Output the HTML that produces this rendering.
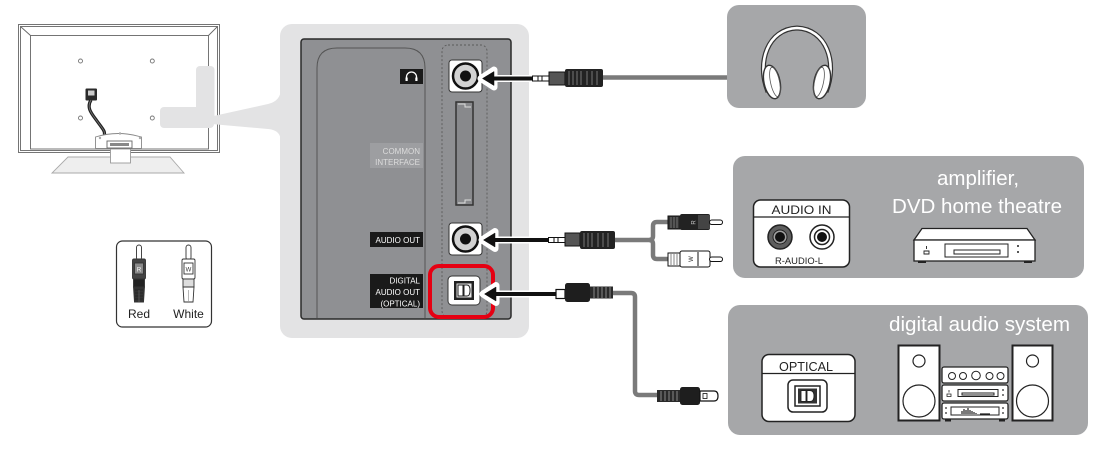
<!DOCTYPE html>
<html>
<head>
<meta charset="utf-8">
<style>
html,body{margin:0;padding:0;background:#fff;}
svg{display:block;}
text{font-family:"Liberation Sans",sans-serif;}
</style>
</head>
<body>
<svg width="1106" height="454" viewBox="0 0 1106 454" xmlns="http://www.w3.org/2000/svg">
<rect width="1106" height="454" fill="#fff"/>

<!-- TV -->
<g fill="none" stroke="#666" stroke-width="0.9">
  <rect x="18.5" y="24.5" width="201" height="128"/>
  <rect x="20.5" y="26.5" width="197" height="124"/>
  <rect x="30.5" y="35.5" width="178" height="113.5"/>
  <line x1="20.5" y1="26.5" x2="30.5" y2="35.5"/>
  <line x1="217.5" y1="26.5" x2="208.5" y2="35.5"/>
</g>
<g fill="#fff" stroke="#777" stroke-width="0.9">
  <circle cx="80.5" cy="61" r="2"/>
  <circle cx="152.3" cy="61" r="2"/>
  <circle cx="80.5" cy="118" r="2"/>
  <circle cx="152.3" cy="118" r="2"/>
</g>
<!-- power cord -->
<rect x="85.5" y="88.5" width="11.5" height="12" fill="#2a2a2a" rx="1"/>
<rect x="88" y="90.5" width="6.5" height="5" fill="#ccc"/>
<path d="M91,100 C86,108 92,114 97,121 C102,128 106,132 104,135" stroke="#222" stroke-width="3.2" fill="none"/>
<path d="M91,100 C86,108 92,114 97,121 C102,128 106,132 104,135" stroke="#777" stroke-width="0.8" fill="none"/>
<!-- stand -->
<polygon points="68,157 170,157 184,173 52,173" fill="#eee" stroke="#aaa" stroke-width="0.9"/>
<rect x="110.5" y="149" width="20" height="14" fill="#fff" stroke="#999" stroke-width="0.9"/>
<path d="M95.5,148.5 V137 Q118,130 141.5,137 V148.5 Z" fill="#fff" stroke="#888" stroke-width="0.9"/>
<rect x="107" y="141" width="25" height="7" fill="#fff" stroke="#666" stroke-width="0.9"/>
<rect x="110" y="143" width="19" height="3" fill="#888"/>
<circle cx="100" cy="138" r="1.2" fill="#aaa"/><circle cx="120" cy="133.5" r="1.2" fill="#aaa"/><circle cx="140" cy="138" r="1.2" fill="#aaa"/>

<!-- light callout shapes -->
<g fill="#e3e3e4">
  <rect x="196" y="66" width="18.5" height="60" rx="4"/>
  <rect x="160" y="107" width="54" height="21" rx="4"/>
  <path d="M200,119 L268,104 Q281,101 281,88 L281,142 Q281,130 268,129 L200,123 Z"/>
  <rect x="280" y="24" width="249" height="314" rx="12"/>
</g>

<!-- RCA legend -->
<rect x="116.5" y="241" width="95" height="86" rx="6" fill="#fff" stroke="#333" stroke-width="1.2"/>
<g stroke="#333" stroke-width="0.9">
  <rect x="136.5" y="245" width="5" height="15" rx="2.5" fill="#fff"/>
  <rect x="132.5" y="259" width="13" height="20" rx="1.5" fill="#444"/>
  <rect x="134.5" y="263" width="9" height="11" fill="#8a8a8a"/>
  <rect x="133.5" y="279" width="11" height="8" fill="#222"/>
  <path d="M133.5,287 H144.5 L143.5,302 H134.5 Z" fill="#333"/>
  <rect x="186" y="245" width="5" height="15" rx="2.5" fill="#fff"/>
  <rect x="182" y="259" width="13" height="20" rx="1.5" fill="#fff"/>
  <rect x="184" y="263" width="9" height="11" fill="#fff"/>
  <rect x="183" y="279" width="11" height="8" fill="#ddd"/>
  <path d="M183,287 H194 L193,302 H184 Z" fill="#fff"/>
</g>
<g stroke="#222" stroke-width="0.7">
  <line x1="135" y1="290" x2="143" y2="290"/><line x1="135" y1="293" x2="143" y2="293"/><line x1="135" y1="296" x2="143" y2="296"/><line x1="135" y1="299" x2="143" y2="299"/>
  <line x1="139" y1="290" x2="139" y2="302" stroke="#666"/>
  <line x1="188.5" y1="290" x2="188.5" y2="302" stroke="#999"/>
</g>
<text x="139" y="271.5" font-size="6" fill="#fff" text-anchor="middle">R</text>
<text x="188.5" y="271.5" font-size="6" fill="#333" text-anchor="middle">W</text>
<text x="139" y="318" font-size="12" fill="#222" text-anchor="middle">Red</text>
<text x="188.5" y="318" font-size="12" fill="#222" text-anchor="middle">White</text>

<!-- Dark panel -->
<rect x="301" y="39" width="210" height="280" rx="3" fill="#8f9093" stroke="#2a2a2a" stroke-width="1.5"/>
<path d="M317,318 V68 Q317,48 337,48 H405 Q425,48 425,68 V318" fill="none" stroke="#555" stroke-width="1"/>
<rect x="442" y="45" width="45" height="272" rx="6" fill="none" stroke="#5a5a5a" stroke-width="0.9" stroke-dasharray="2,2"/>

<!-- headphone jack -->
<rect x="449" y="60" width="33" height="32" rx="3" fill="#fff" stroke="#333" stroke-width="1"/>
<circle cx="465.5" cy="76" r="12.5" fill="#d2d2d2" stroke="#111" stroke-width="2.5"/>
<circle cx="465.5" cy="76" r="5.5" fill="#111"/>
<!-- headphone label -->
<rect x="400" y="69" width="23" height="15" fill="#1a1a1a"/>
<path d="M406.5,80 V77 A5,5 0 0 1 416.5,77 V80" fill="none" stroke="#fff" stroke-width="1.3"/>
<rect x="405.5" y="77.5" width="2.2" height="3.5" fill="#fff"/>
<rect x="415.3" y="77.5" width="2.2" height="3.5" fill="#fff"/>

<!-- CI slot -->
<rect x="456" y="102" width="17" height="103" fill="#88898c" stroke="#333" stroke-width="1.5"/>
<path d="M458,104 H465 V107 H471" fill="none" stroke="#ddd" stroke-width="1"/>
<path d="M458,203 H465 V200 H471" fill="none" stroke="#ddd" stroke-width="1"/>
<rect x="370" y="143" width="53" height="25" fill="#9d9ea1"/>
<text x="420" y="154" font-size="8" fill="#dcdcdc" text-anchor="end">COMMON</text>
<text x="420" y="165" font-size="8" fill="#dcdcdc" text-anchor="end">INTERFACE</text>

<!-- audio out -->
<rect x="449" y="223" width="33" height="32" rx="3" fill="#fff" stroke="#333" stroke-width="1"/>
<circle cx="465.5" cy="239" r="12.5" fill="#d2d2d2" stroke="#111" stroke-width="2.5"/>
<circle cx="465.5" cy="239" r="5.5" fill="#111"/>
<rect x="370" y="232" width="53" height="15" fill="#1a1a1a"/>
<text x="420" y="243" font-size="8" fill="#fff" text-anchor="end">AUDIO OUT</text>

<!-- digital -->
<rect x="370" y="274" width="53" height="34" fill="#1a1a1a"/>
<text x="420" y="283.5" font-size="8" fill="#fff" text-anchor="end">DIGITAL</text>
<text x="420" y="295" font-size="8" fill="#fff" text-anchor="end">AUDIO OUT</text>
<text x="420" y="306.5" font-size="8" fill="#fff" text-anchor="end">(OPTICAL)</text>

<rect x="448" y="276" width="32" height="29" rx="4" fill="#fff" stroke="#333" stroke-width="1"/>
<rect x="454" y="281" width="20" height="19" fill="#222"/>
<rect x="456" y="283" width="16" height="15" fill="#e6e6e6" stroke="#222" stroke-width="1"/>
<path d="M458,285 H463 V296 H458 Z M464,285 H467 Q470,285 470,290.5 Q470,296 467,296 H464 Z" fill="#fff" stroke="#222" stroke-width="1"/>
<rect x="430" y="266" width="63" height="51" rx="9" fill="none" stroke="#e60012" stroke-width="4"/>

<!-- arrows -->
<g stroke="#fff" stroke-width="7" fill="#fff" stroke-linejoin="round">
  <line x1="490" y1="78.5" x2="534" y2="78.5"/>
  <polygon points="481,78.5 494,70 494,87"/>
  <line x1="490" y1="240" x2="550" y2="240"/>
  <polygon points="482,240 495,231.5 495,248.5"/>
  <line x1="490" y1="294" x2="558" y2="294"/>
  <polygon points="483,294 496,285.5 496,302.5"/>
</g>
<g stroke="#111" stroke-width="4" fill="#111">
  <line x1="490" y1="78.5" x2="534" y2="78.5"/>
  <polygon points="482.5,78.5 494,71.5 494,85.5" stroke-width="0.5"/>
  <line x1="490" y1="240" x2="550" y2="240"/>
  <polygon points="483.5,240 495,233 495,247" stroke-width="0.5"/>
  <line x1="490" y1="294" x2="558" y2="294"/>
  <polygon points="484.5,294 496,287 496,301" stroke-width="0.5"/>
</g>

<!-- cables -->
<g fill="none" stroke="#7a7a7a" stroke-width="4.5">
  <line x1="603" y1="77.5" x2="728" y2="77.5"/>
  <path d="M615,240 H649 Q653,240 653,236 V226 Q653,222 657,222 H669"/>
  <path d="M649,240 Q653,240 653,244 V255 Q653,259 657,259 H669"/>
  <path d="M612,293 H631 Q635,293 635,297 V391 Q635,395 639,395 H658"/>
</g>

<!-- headphone plug -->
<rect x="532.5" y="76" width="17" height="5" fill="#fff" stroke="#111" stroke-width="1"/>
<line x1="538" y1="76" x2="538" y2="81" stroke="#111"/><line x1="542" y1="76" x2="542" y2="81" stroke="#111"/>
<rect x="549" y="72" width="16" height="13" fill="#555" stroke="#111" stroke-width="1"/>
<rect x="565" y="69" width="38" height="18" rx="2" fill="#222"/>
<g stroke="#777" stroke-width="1">
  <line x1="569" y1="71" x2="569" y2="85"/><line x1="573" y1="71" x2="573" y2="85"/><line x1="577" y1="71" x2="577" y2="85"/><line x1="581" y1="71" x2="581" y2="85"/><line x1="587" y1="71" x2="587" y2="85"/><line x1="592" y1="71" x2="592" y2="85"/><line x1="597" y1="71" x2="597" y2="85"/>
</g>

<!-- audio out plug -->
<rect x="548.5" y="237.5" width="17" height="5" fill="#fff" stroke="#111" stroke-width="1"/>
<line x1="554" y1="237.5" x2="554" y2="242.5" stroke="#111"/><line x1="558" y1="237.5" x2="558" y2="242.5" stroke="#111"/>
<rect x="565" y="233" width="15" height="13" fill="#555" stroke="#111" stroke-width="1"/>
<rect x="580" y="231" width="35" height="18" rx="2" fill="#222"/>
<g stroke="#777" stroke-width="1">
  <line x1="584" y1="233" x2="584" y2="247"/><line x1="588" y1="233" x2="588" y2="247"/><line x1="592" y1="233" x2="592" y2="247"/><line x1="598" y1="233" x2="598" y2="247"/><line x1="603" y1="233" x2="603" y2="247"/><line x1="608" y1="233" x2="608" y2="247"/>
</g>

<!-- RCA plugs right -->
<rect x="668" y="216" width="12" height="13" fill="#333" stroke="#111" stroke-width="1"/>
<g stroke="#888" stroke-width="0.8"><line x1="671" y1="217" x2="671" y2="228"/><line x1="674" y1="217" x2="674" y2="228"/><line x1="677" y1="217" x2="677" y2="228"/></g>
<rect x="680" y="214" width="30" height="16" rx="2" fill="#222"/>
<rect x="698" y="215" width="12" height="14" fill="#444"/>
<text x="693" y="225" font-size="6" fill="#ccc" text-anchor="middle" transform="rotate(-90 693 222.5)">R</text>
<rect x="709.5" y="220" width="13" height="4.5" rx="2.2" fill="#fff" stroke="#111" stroke-width="1"/>

<rect x="668" y="253" width="12" height="13" fill="#fff" stroke="#111" stroke-width="1"/>
<g stroke="#666" stroke-width="0.8"><line x1="671" y1="254" x2="671" y2="265"/><line x1="674" y1="254" x2="674" y2="265"/><line x1="677" y1="254" x2="677" y2="265"/></g>
<rect x="680" y="251" width="30" height="16" rx="2" fill="#fff" stroke="#111" stroke-width="1"/>
<line x1="698" y1="252" x2="698" y2="266" stroke="#111" stroke-width="1"/>
<text x="690" y="262" font-size="6" fill="#333" text-anchor="middle" transform="rotate(-90 690 259)">W</text>
<rect x="709.5" y="257" width="13" height="4.5" rx="2.2" fill="#fff" stroke="#111" stroke-width="1"/>

<!-- optical plug near TV -->
<rect x="556" y="289.5" width="9" height="9" fill="#fff" stroke="#111" stroke-width="1.2"/>
<rect x="565" y="283" width="25" height="19" rx="2.5" fill="#1e1e1e"/>
<rect x="590" y="286.5" width="23" height="12" fill="#2a2a2a"/>
<g stroke="#888" stroke-width="1"><line x1="594" y1="287" x2="594" y2="298"/><line x1="598" y1="287" x2="598" y2="298"/><line x1="602" y1="287" x2="602" y2="298"/><line x1="606" y1="287" x2="606" y2="298"/><line x1="610" y1="287" x2="610" y2="298"/></g>
<!-- optical plug far end -->
<rect x="657" y="390" width="23" height="12" fill="#2a2a2a"/>
<g stroke="#888" stroke-width="1"><line x1="661" y1="391" x2="661" y2="401"/><line x1="665" y1="391" x2="665" y2="401"/><line x1="669" y1="391" x2="669" y2="401"/><line x1="673" y1="391" x2="673" y2="401"/><line x1="677" y1="391" x2="677" y2="401"/></g>
<rect x="680" y="387" width="20" height="18" rx="2.5" fill="#1e1e1e"/>
<path d="M700,391 H714 Q718,391 718,396 Q718,401 714,401 H700 Z" fill="#fff" stroke="#111" stroke-width="1.2"/>
<rect x="703" y="393.5" width="4" height="5" fill="#fff" stroke="#111" stroke-width="0.8"/>

<!-- Headphone box -->
<rect x="727" y="5" width="139" height="103" rx="12" fill="#a6a7a9"/>
<path d="M768,92 C756,62 768,29 797,28 C826,29 838,62 826,92" fill="none" stroke="#333" stroke-width="5"/>
<path d="M768,92 C756,62 768,29 797,28 C826,29 838,62 826,92" fill="none" stroke="#fff" stroke-width="2.6"/>
<ellipse cx="772" cy="82" rx="8" ry="17" transform="rotate(-12 772 82)" fill="#fff" stroke="#333" stroke-width="1.4"/>
<ellipse cx="775" cy="82" rx="4.5" ry="15" transform="rotate(-12 775 82)" fill="none" stroke="#555" stroke-width="0.8"/>
<ellipse cx="822" cy="82" rx="8" ry="17" transform="rotate(12 822 82)" fill="#fff" stroke="#333" stroke-width="1.4"/>
<ellipse cx="819" cy="82" rx="4.5" ry="15" transform="rotate(12 819 82)" fill="none" stroke="#555" stroke-width="0.8"/>

<!-- Amplifier box -->
<rect x="733" y="156" width="351" height="122" rx="12" fill="#a6a7a9"/>
<text x="978" y="185" font-size="20.5" fill="#fff" text-anchor="middle">amplifier,</text>
<text x="977" y="213" font-size="20.5" fill="#fff" text-anchor="middle" textLength="170" lengthAdjust="spacingAndGlyphs">DVD home theatre</text>
<rect x="753.5" y="200" width="96" height="67" rx="7" fill="#fff" stroke="#222" stroke-width="1.5"/>
<line x1="753.5" y1="217" x2="849.5" y2="217" stroke="#222" stroke-width="1.2"/>
<text x="801.5" y="214" font-size="12" fill="#222" text-anchor="middle" textLength="60" lengthAdjust="spacingAndGlyphs">AUDIO IN</text>
<circle cx="780" cy="237" r="12" fill="#5e5e5e" stroke="#222" stroke-width="1.5"/>
<circle cx="780" cy="237" r="7" fill="#a0a0a0" stroke="#222" stroke-width="1"/>
<circle cx="780" cy="237" r="5" fill="#111"/>
<circle cx="822" cy="237" r="12" fill="#fff" stroke="#222" stroke-width="1.5"/>
<circle cx="822" cy="237" r="7.5" fill="#fff" stroke="#222" stroke-width="1.5"/>
<circle cx="822" cy="237" r="5" fill="#111"/>
<text x="799" y="264" font-size="9.5" fill="#222" text-anchor="middle" textLength="48" lengthAdjust="spacingAndGlyphs">R-AUDIO-L</text>
<!-- DVD player -->
<polygon points="922,228.5 1027,228.5 1035,240 914,240" fill="#fff" stroke="#222" stroke-width="1.3"/>
<rect x="914" y="240" width="121" height="21" fill="#fff" stroke="#222" stroke-width="1.3"/>
<rect x="918" y="261" width="8" height="2" fill="#222"/><rect x="1024" y="261" width="8" height="2" fill="#222"/>
<rect x="945" y="244" width="63" height="13" fill="#fff" stroke="#222" stroke-width="1"/>
<rect x="954" y="250" width="46" height="4" fill="#fff" stroke="#222" stroke-width="1"/>
<path d="M924,251 h5 v3 h-5 z M926.5,246 v3" stroke="#222" stroke-width="0.9" fill="none"/>
<circle cx="1018" cy="246" r="1" fill="#222"/><circle cx="1018" cy="252" r="1" fill="#222"/>

<!-- Digital audio system box -->
<rect x="728" y="305" width="360" height="130" rx="12" fill="#a6a7a9"/>
<text x="1070" y="331" font-size="20.5" fill="#fff" text-anchor="end" textLength="181" lengthAdjust="spacingAndGlyphs">digital audio system</text>
<rect x="762" y="354.5" width="93" height="67" rx="7" fill="#fff" stroke="#222" stroke-width="1.5"/>
<line x1="762" y1="373.5" x2="855" y2="373.5" stroke="#222" stroke-width="1.2"/>
<text x="806" y="371" font-size="13" fill="#222" text-anchor="middle" textLength="54" lengthAdjust="spacingAndGlyphs">OPTICAL</text>
<rect x="788" y="380" width="39" height="32" rx="5" fill="#fff" stroke="#222" stroke-width="1.5"/>
<rect x="795" y="386" width="25" height="20" fill="#fff" stroke="#222" stroke-width="1.5"/>
<rect x="798" y="388.5" width="19" height="15" fill="#333"/>
<path d="M801,390.5 H806 V401.5 H801 Z M807,390.5 H810 Q814,390.5 814,396 Q814,401.5 810,401.5 H807 Z" fill="#fff" stroke="#222" stroke-width="0.9"/>
<!-- speakers -->
<rect x="898.5" y="345.5" width="41" height="75" fill="#fff" stroke="#222" stroke-width="2"/>
<circle cx="919" cy="361" r="6" fill="#fff" stroke="#222" stroke-width="1.2"/>
<circle cx="919" cy="401" r="16" fill="#fff" stroke="#222" stroke-width="1.2"/>
<rect x="1012.5" y="345.5" width="40" height="75" fill="#fff" stroke="#222" stroke-width="2"/>
<circle cx="1032.5" cy="361" r="6" fill="#fff" stroke="#222" stroke-width="1.2"/>
<circle cx="1032.5" cy="401" r="16" fill="#fff" stroke="#222" stroke-width="1.2"/>
<!-- center units -->
<g fill="#fff" stroke="#222" stroke-width="1.3">
  <rect x="942" y="367" width="66" height="16" rx="2"/>
  <rect x="942" y="385" width="66" height="16" rx="2"/>
  <rect x="942" y="403" width="66" height="16" rx="2"/>
</g>
<g fill="#fff" stroke="#222" stroke-width="1">
  <circle cx="952" cy="376" r="3.5"/><circle cx="963" cy="376" r="3.5"/><circle cx="976" cy="375.5" r="4.3"/><circle cx="989.5" cy="376" r="3.5"/><circle cx="1000.5" cy="376" r="3.5"/>
  <rect x="958" y="389.5" width="40" height="7"/>
  <rect x="962" y="393" width="32" height="2"/>
  <rect x="951" y="407" width="48" height="8"/>
</g>
<path d="M947,394 h4 v2.5 h-4 z M949,390 v2.5" stroke="#222" stroke-width="0.8" fill="none"/>
<circle cx="1003" cy="390" r="0.9" fill="#222"/><circle cx="1003" cy="395" r="0.9" fill="#222"/>
<circle cx="1003" cy="408" r="0.9" fill="#222"/><circle cx="1003" cy="413" r="0.9" fill="#222"/>
<circle cx="946" cy="408" r="0.9" fill="#222"/><circle cx="946" cy="413" r="0.9" fill="#222"/>
<path d="M962,414 V411 M964,414 V409 M966,414 V410 M968,414 V408 M970,414 V410 M972,414 V411 M974,414 V412 M976,414 V413 M980,414 H990" stroke="#222" stroke-width="1.2"/>
<rect x="945" y="419" width="6" height="2.5" fill="#222"/><rect x="999" y="419" width="6" height="2.5" fill="#222"/>
</svg>
</body>
</html>
